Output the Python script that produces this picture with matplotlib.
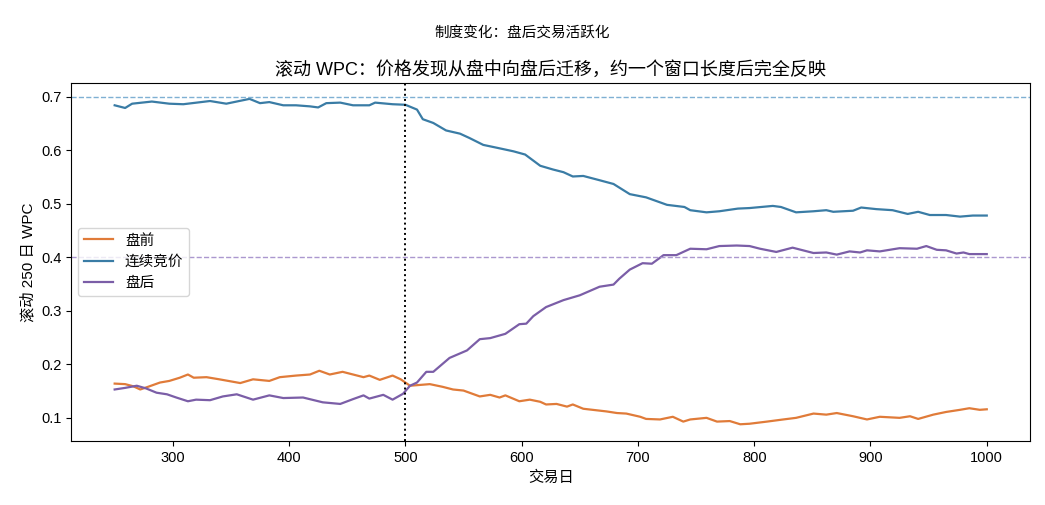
import matplotlib
matplotlib.use("Agg")
import matplotlib.pyplot as plt

plt.rcParams['font.family'] = ['Liberation Sans', 'Noto Sans CJK SC', 'DejaVu Sans']

# 盘前 (pre-open) rolling WPC
pre_days = [250, 259, 266, 272, 280, 289, 297, 306, 313, 318, 329, 340, 358, 369,
            383, 392, 406, 418, 426, 435, 446, 455, 464, 469, 478, 489, 496, 504,
            521, 532, 541, 550, 564, 573, 581, 586, 598, 607, 616, 621, 630, 639,
            644, 653, 673, 682, 690, 702, 707, 719, 730, 739, 745, 759, 768, 779,
            788, 796, 811, 825, 836, 851, 862, 871, 885, 897, 908, 925, 934, 941,
            954, 965, 977, 985, 994, 1000]
pre_wpc = [0.164, 0.163, 0.159, 0.153, 0.159, 0.166, 0.169, 0.175, 0.181, 0.175,
           0.176, 0.172, 0.165, 0.172, 0.169, 0.176, 0.179, 0.181, 0.188, 0.181,
           0.186, 0.181, 0.176, 0.179, 0.171, 0.179, 0.172, 0.160, 0.163, 0.158,
           0.153, 0.151, 0.140, 0.143, 0.138, 0.142, 0.131, 0.134, 0.130, 0.125,
           0.126, 0.121, 0.125, 0.117, 0.112, 0.109, 0.108, 0.102, 0.098, 0.097,
           0.102, 0.093, 0.097, 0.100, 0.093, 0.094, 0.088, 0.089, 0.093, 0.097,
           0.100, 0.108, 0.106, 0.109, 0.103, 0.097, 0.102, 0.100, 0.103, 0.098,
           0.106, 0.111, 0.115, 0.118, 0.115, 0.116]

# 连续竞价 (continuous trading) rolling WPC
cont_days = [250, 259, 265, 282, 297, 309, 332, 346, 366, 375, 383, 395, 406, 418,
             425, 432, 444, 455, 469, 474, 489, 500, 510, 515, 524, 535, 547, 555,
             567, 578, 593, 603, 616, 627, 636, 644, 653, 667, 679, 693, 707, 725,
             740, 745, 759, 770, 786, 796, 816, 823, 836, 851, 862, 868, 885, 892,
             905, 919, 932, 941, 951, 965, 977, 988, 1000]
cont_wpc = [0.684, 0.679, 0.687, 0.691, 0.687, 0.686, 0.692, 0.687, 0.696, 0.688,
            0.690, 0.684, 0.684, 0.682, 0.680, 0.688, 0.689, 0.684, 0.684, 0.689,
            0.686, 0.685, 0.676, 0.658, 0.651, 0.637, 0.631, 0.623, 0.610, 0.605,
            0.598, 0.592, 0.571, 0.564, 0.559, 0.551, 0.552, 0.544, 0.537, 0.518,
            0.512, 0.498, 0.494, 0.488, 0.484, 0.486, 0.491, 0.492, 0.496, 0.494,
            0.484, 0.486, 0.488, 0.485, 0.487, 0.493, 0.490, 0.488, 0.481, 0.485,
            0.479, 0.479, 0.476, 0.478, 0.478]

# 盘后 (after-hours) rolling WPC
post_days = [250, 259, 269, 277, 286, 295, 303, 313, 320, 332, 343, 355, 369, 383,
             395, 412, 429, 444, 455, 464, 469, 481, 489, 498, 504, 510, 518, 524,
             538, 553, 564, 573, 586, 598, 604, 610, 621, 636, 650, 667, 679, 684,
             693, 704, 712, 722, 733, 745, 759, 770, 785, 796, 805, 819, 833, 851,
             862, 871, 882, 891, 897, 908, 925, 940, 948, 957, 965, 974, 980, 985,
             1000]
post_wpc = [0.153, 0.156, 0.160, 0.155, 0.147, 0.144, 0.138, 0.131, 0.134, 0.133,
            0.140, 0.144, 0.134, 0.142, 0.137, 0.138, 0.129, 0.126, 0.135, 0.142,
            0.136, 0.143, 0.134, 0.145, 0.160, 0.166, 0.186, 0.186, 0.212, 0.226,
            0.247, 0.249, 0.257, 0.275, 0.276, 0.290, 0.307, 0.320, 0.329, 0.345,
            0.349, 0.360, 0.377, 0.389, 0.388, 0.404, 0.404, 0.416, 0.415, 0.421,
            0.422, 0.421, 0.416, 0.410, 0.418, 0.408, 0.409, 0.405, 0.411, 0.409,
            0.413, 0.411, 0.417, 0.416, 0.421, 0.414, 0.413, 0.407, 0.409, 0.406,
            0.406]

change_day = 500
cont_ref = 0.70
post_ref = 0.40

c_pre = '#e07b39'
c_cont = '#3a7ca5'
c_post = '#7b5ea7'

fig, ax = plt.subplots(figsize=(10.45, 5.05), dpi=100)
fig.subplots_adjust(left=0.068, right=0.986, top=0.836, bottom=0.127)

ax.plot(pre_days, pre_wpc, color=c_pre, lw=1.6, label='盘前')
ax.plot(cont_days, cont_wpc, color=c_cont, lw=1.6, label='连续竞价')
ax.plot(post_days, post_wpc, color=c_post, lw=1.6, label='盘后')

# reference levels and regime change
ax.axhline(cont_ref, color='#7fb0d3', ls='--', lw=1.0)
ax.axhline(post_ref, color='#ab98cf', ls='--', lw=1.0)
ax.axvline(change_day, color='black', ls=':', lw=1.4)

ax.set_xlim(212.5, 1037.5)
ax.set_ylim(0.057, 0.726)
ax.set_xlabel('交易日', fontsize=11)
ax.set_ylabel('滚动 250 日 WPC', fontsize=11)
ax.set_title('滚动 WPC：价格发现从盘中向盘后迁移，约一个窗口长度后完全反映', fontsize=13)
fig.suptitle('制度变化：盘后交易活跃化', fontsize=10.5, y=0.95)
ax.tick_params(labelsize=10.5)
ax.legend(loc='center left', fontsize=10.5)

fig.savefig('out.png', dpi=100)
